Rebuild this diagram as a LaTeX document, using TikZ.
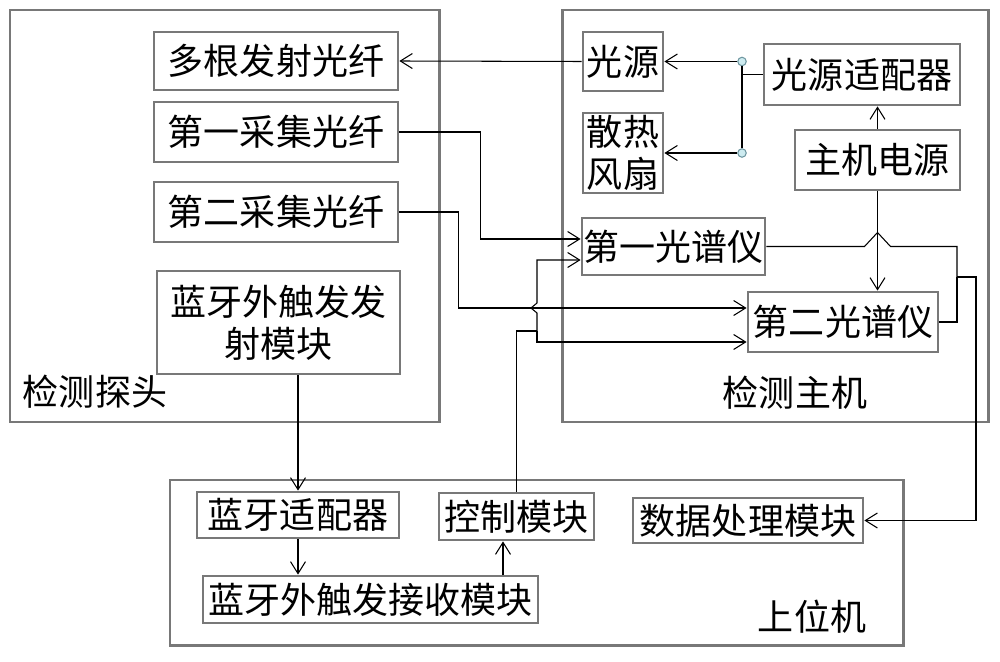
\documentclass[tikz,border=0pt]{standalone}
\usepackage{fontspec}
\newfontfamily\cjk{Noto Sans CJK SC}
\usetikzlibrary{arrows.meta,calc}
\definecolor{boxgray}{RGB}{120,120,120}
\definecolor{dotline}{RGB}{110,150,160}
\definecolor{dotfill}{RGB}{205,235,240}
\begin{document}
\begin{tikzpicture}[x=0.02cm,y=-0.02cm,
  font=\cjk\fontsize{20.5}{24}\selectfont,
  sz/.style 2 args={minimum width=#1*0.02cm, minimum height=#2*0.02cm},
  frame/.style={draw=boxgray, line width=1.7pt, inner sep=0pt},
  blk/.style={draw=boxgray, line width=1.6pt, inner sep=0pt, align=center, fill=white},
  wire/.style={draw=black, line width=0.6pt},
  arr/.style={wire, -{Straight Barb[length=2.4mm,width=3mm]}},
  dot/.style={circle, draw=dotline, fill=dotfill, line width=0.6pt, minimum size=0.17cm, inner sep=0pt}]
\useasboundingbox (0,0) rectangle (1000,662);

\node[frame, sz={429}{412}] (probe) at (224.5,216) {};
\node[frame, sz={426}{412}] (host) at (775,216) {};
\node[frame, sz={733}{165}] (pc) at (536.5,562.5) {};

\node (probelbl) at (95,392) {检测探头};
\node (hostlbl) at (795,393) {检测主机};
\node (pclbl) at (812,617) {上位机};

\node[blk, sz={244}{58}] (fib) at (276,61) {多根发射光纤};
\node[blk, sz={244}{60}] (col1) at (276,132) {第一采集光纤};
\node[blk, sz={244}{60}] (col2) at (276,212) {第二采集光纤};
\node[blk, sz={243}{103}] (btx) at (278.5,322.5) {蓝牙外触发发\\射模块};

\node[blk, sz={80}{59}] (src) at (623,61.5) {光源};
\node[blk, sz={80}{80}] (fan) at (623,153) {散热\\风扇};
\node[blk, sz={196}{61}] (adp) at (862,74.5) {光源适配器};
\node[blk, sz={165}{60}] (psu) at (877.5,160) {主机电源};
\node[blk, sz={183}{57}] (sp1) at (673.5,246.5) {第一光谱仪};
\node[blk, sz={190}{60}] (sp2) at (843,322) {第二光谱仪};

\node[blk, sz={202}{46}] (bad) at (298,515) {蓝牙适配器};
\node[blk, sz={335}{47}] (brx) at (370.5,599.5) {蓝牙外触发接收模块};
\node[blk, sz={155}{47}] (ctl) at (516.5,516.5) {控制模块};
\node[blk, sz={230}{45}] (dpm) at (748,520.5) {数据处理模块};

\node[dot] (j1) at (742,61.5) {};
\node[dot] (j2) at (742,153) {};
\coordinate (cj) at (537,331);
\coordinate (mrg) at (957,277);
\coordinate (ctlin) at ([xshift=-0.27cm]ctl.south);

\draw[arr] (src.west) -- (fib.east);
\draw[wire] (adp.west) -- (adp.west -| j1);
\draw[wire] (j1) -- (j2);
\draw[arr] (j1) -- (src.east);
\draw[arr] (j2) -- (fan.east);
\draw[arr] (psu.north) -- (psu.north |- adp.south);
\draw[arr] (psu.south) -- (psu.south |- sp2.north);

\draw[arr] (col1.east) -- ++(81,0) |- ([yshift=0.15cm]sp1.west);
\draw[arr] (col2.east) -- ++(59,0) |- ([yshift=0.28cm]sp2.west);
\draw[wire] (ctl.north) |- (cj);
\draw[arr] (cj) -- (537,313) -- (531,308) -- (537,303) |- ([yshift=-0.27cm]sp1.west);
\draw[arr] (cj) |- ([yshift=-0.4cm]sp2.west);

\draw[wire] (sp1.east) -- ($(psu.south |- sp1.east)+(-13,0)$) -- ($(psu.south |- sp1.east)+(0,-14)$)
  -- ($(psu.south |- sp1.east)+(13,0)$) -| (mrg);
\draw[wire] (sp2.east) -| (mrg);
\draw[arr] (mrg) -- ++(19,0) |- (dpm.east);

\draw[arr] (btx.south -| bad.north) -- (bad.north);
\draw[arr] (bad.south) -- (bad.south |- brx.north);
\draw[arr] (ctlin |- brx.north) -- (ctlin);
\end{tikzpicture}
\end{document}
